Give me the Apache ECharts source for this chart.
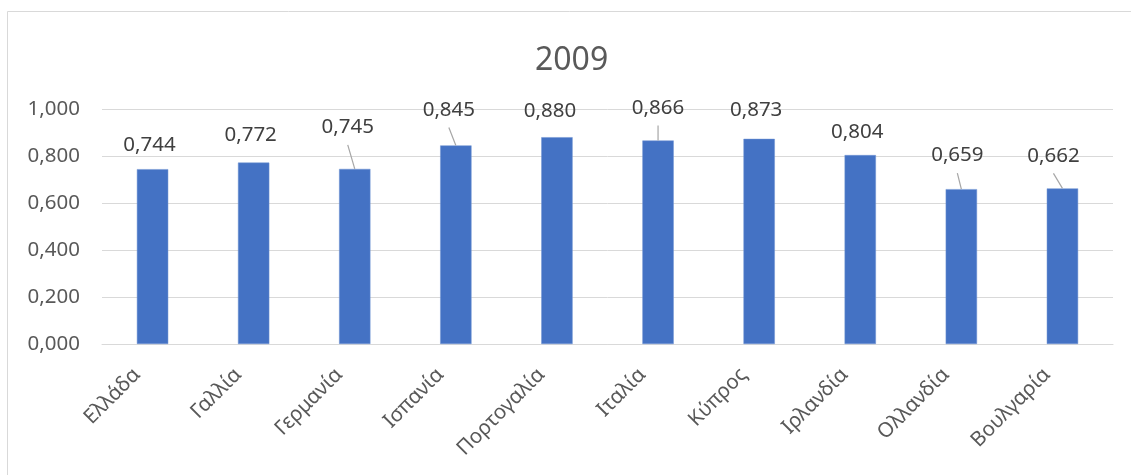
<!DOCTYPE html>
<html>
<head>
<meta charset="utf-8">
<script src="https://cdn.jsdelivr.net/npm/echarts@6/dist/echarts.min.js"></script>
<style>
  html, body { margin: 0; padding: 0; background: #ffffff; }
  #chart { width: 1131px; height: 475px; }
</style>
</head>
<body>
<div id="chart"></div>
<script>
// Countries and their 2009 values
const countries = ['Ελλάδα', 'Γαλλία', 'Γερμανία', 'Ισπανία', 'Πορτογαλία', 'Ιταλία', 'Κύπρος', 'Ιρλανδία', 'Ολλανδία', 'Βουλγαρία'];
const values2009 = [0.744, 0.772, 0.745, 0.845, 0.880, 0.866, 0.873, 0.804, 0.659, 0.662];
const yTicks = [0, 0.2, 0.4, 0.6, 0.8, 1.0];

// Label nudges (dx, dy in px) and which labels get a leader line
const labelShift = [[-3, 0], [-3, -3], [-7, -17], [-7, -11], [-7, -2], [0, -8], [-3, -4], [-3, 2], [-4, -9], [-9, -8]];
const leader = [false, false, true, true, false, true, false, false, true, true];

const fmt = v => v.toFixed(3).replace('.', ',');
const FONT = '"Noto Sans", "Open Sans", sans-serif';
const TEXT = '#595959';
const FS = 20.5;

// leader lines: from just under a shifted label down to the top centre of its bar
const leaderData = values2009.map((v, i) => [i, v]).filter((d, i) => leader[i]);

const chart = echarts.init(document.getElementById('chart'), null, { renderer: 'canvas' });

chart.setOption({
  backgroundColor: '#ffffff',
  animation: false,
  title: {
    text: '2009',
    left: 530,
    top: 40,
    textStyle: { fontFamily: FONT, fontSize: 32, fontWeight: 'normal', color: TEXT }
  },
  graphic: [{
    type: 'rect',
    shape: { x: 7.5, y: 11.5, width: 1140, height: 480 },
    style: { fill: 'none', stroke: '#d9d9d9', lineWidth: 1 },
    silent: true
  }],
  grid: { left: 102, right: 18, top: 109, bottom: 131 },
  xAxis: {
    type: 'category',
    data: countries,
    axisLine: { lineStyle: { color: '#d9d9d9', width: 1 } },
    axisTick: { show: false },
    axisLabel: {
      rotate: 45,
      interval: 0,
      margin: 12,
      padding: [0, 22, 0, 0],
      fontFamily: FONT,
      fontSize: FS,
      color: TEXT
    }
  },
  yAxis: {
    type: 'value',
    min: yTicks[0],
    max: yTicks[yTicks.length - 1],
    interval: 0.2,
    axisLine: { show: false },
    axisTick: { show: false },
    splitLine: { lineStyle: { color: '#d9d9d9', width: 1 } },
    axisLabel: {
      margin: 22,
      fontFamily: FONT,
      fontSize: FS,
      color: TEXT,
      formatter: v => fmt(v)
    }
  },
  series: [{
    type: 'bar',
    barWidth: '31%',
    data: values2009,
    itemStyle: { color: '#4472c4', borderColor: '#6f93d3', borderWidth: 0.5 },
    label: {
      show: true,
      position: 'top',
      distance: 14,
      fontFamily: FONT,
      fontSize: FS,
      color: '#404040',
      formatter: p => fmt(p.value)
    },
    labelLayout: p => ({ dx: labelShift[p.dataIndex][0], dy: labelShift[p.dataIndex][1] })
  }, {
    type: 'custom',
    silent: true,
    z: 3,
    data: leaderData,
    renderItem: (params, api) => {
      const idx = api.value(0);
      const top = api.coord([idx, api.value(1)]);
      const s = labelShift[idx];
      return {
        type: 'line',
        shape: { x1: top[0] + s[0], y1: top[1] - 7 + s[1], x2: top[0], y2: top[1] },
        style: { stroke: '#a6a6a6', lineWidth: 1.2 }
      };
    }
  }]
});
</script>
</body>
</html>
